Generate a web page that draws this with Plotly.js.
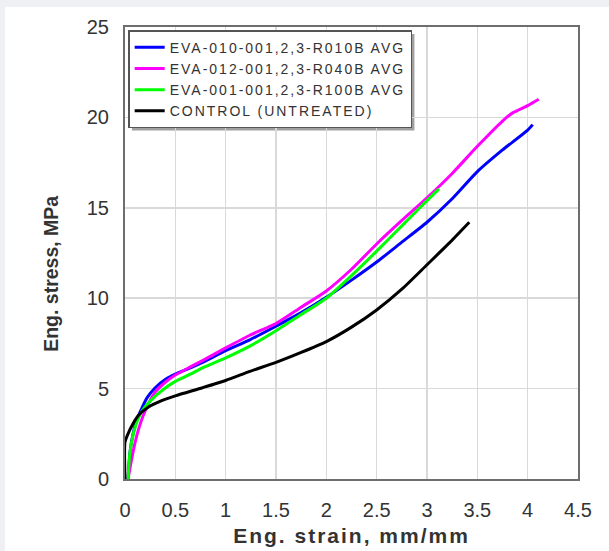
<!DOCTYPE html>
<html>
<head>
<meta charset="utf-8">
<script src="https://cdn.plot.ly/plotly-3.0.1.min.js"></script>
<style>
  html, body { margin: 0; padding: 0; background: #eef0f3; width: 609px; height: 551px; overflow: hidden; }
  #chart { position: absolute; left: 5px; top: 7px; width: 604px; height: 544px; background: #ffffff; }
  .legendtext { letter-spacing: 2px; }
  .xtitle { letter-spacing: 2px; }
</style>
</head>
<body>
<div id="chart"></div>
<script>
// Series names
const seriesNames = [
  "EVA-010-001,2,3-R010B AVG",
  "EVA-012-001,2,3-R040B AVG",
  "EVA-001-001,2,3-R100B AVG",
  "CONTROL (UNTREATED)"
];

// EVA-010 (blue)
const blueStrain = [0.03, 0.05, 0.08, 0.12, 0.17, 0.22, 0.30, 0.40, 0.50, 0.65, 0.77, 1.00, 1.24, 1.50, 1.75, 2.00, 2.25, 2.50, 2.75, 3.00, 3.25, 3.50, 3.75, 4.00, 4.05];
const blueStress = [0.0, 1.5, 2.5, 3.3, 3.95, 4.5, 5.05, 5.5, 5.8, 6.15, 6.45, 7.1, 7.7, 8.45, 9.2, 10.05, 11.0, 12.0, 13.1, 14.2, 15.5, 17.0, 18.2, 19.3, 19.6];

// EVA-012 (magenta)
const magStrain = [0.03, 0.08, 0.13, 0.20, 0.30, 0.40, 0.50, 0.65, 0.77, 1.00, 1.24, 1.50, 1.75, 2.00, 2.25, 2.50, 2.75, 3.00, 3.25, 3.50, 3.75, 3.85, 4.00, 4.11];
const magStress = [0.0, 1.5, 2.66, 3.76, 4.8, 5.35, 5.75, 6.2, 6.55, 7.25, 7.95, 8.6, 9.5, 10.4, 11.6, 13.0, 14.3, 15.55, 16.9, 18.4, 19.8, 20.25, 20.65, 21.0];

// EVA-001 (green)
const greenStrain = [0.03, 0.05, 0.10, 0.17, 0.27, 0.38, 0.50, 0.65, 0.77, 1.00, 1.24, 1.50, 1.75, 2.00, 2.25, 2.50, 2.75, 3.00, 3.12];
const greenStress = [0.0, 1.5, 2.85, 3.76, 4.42, 4.95, 5.4, 5.8, 6.15, 6.7, 7.35, 8.2, 9.1, 10.0, 11.25, 12.6, 14.0, 15.4, 16.05];

// CONTROL (black)
const ctrlStrain = [0.0, 0.0, 0.03, 0.066, 0.13, 0.23, 0.37, 0.50, 0.77, 1.00, 1.24, 1.50, 1.75, 2.00, 2.25, 2.50, 2.75, 3.00, 3.23, 3.42];
const ctrlStress = [0.0, 2.05, 2.5, 2.92, 3.5, 3.97, 4.35, 4.6, 5.05, 5.45, 5.95, 6.45, 7.0, 7.6, 8.4, 9.35, 10.5, 11.85, 13.1, 14.2];

// Axis ticks
const xTicks = [0, 0.5, 1, 1.5, 2, 2.5, 3, 3.5, 4, 4.5];
const xTickText = ["0", "0.5", "1", "1.5", "2", "2.5", "3", "3.5", "4", "4.5"];
const yTicks = [0, 5, 10, 15, 20, 25];

const colors = ["#0000ff", "#ff00ff", "#00ff00", "#000000"];
const xs = [blueStrain, magStrain, greenStrain, ctrlStrain];
const ys = [blueStress, magStress, greenStress, ctrlStress];

const traces = xs.map((x, i) => ({
  x: x, y: ys[i], type: "scatter", mode: "lines", name: seriesNames[i],
  line: { color: colors[i], width: 3, shape: "spline", smoothing: 0.6 }
}));

const font = "Liberation Sans, Arial, sans-serif";

const layout = {
  width: 604, height: 544,
  margin: { l: 120, r: 31, t: 20, b: 72 },
  paper_bgcolor: "#ffffff", plot_bgcolor: "#ffffff",
  showlegend: true,
  font: { family: font, color: "#333333" },
  xaxis: {
    range: [0, 4.5], tickvals: xTicks, ticktext: xTickText,
    showgrid: true, gridcolor: "#d9d9d9", gridwidth: 1.5,
    zeroline: false, showline: true, linecolor: "#6e6e6e", linewidth: 2, mirror: true,
    ticks: "", ticklabelstandoff: 12,
    tickfont: { family: font, size: 20, color: "#333333" },
    title: { text: "<b>Eng. strain, mm/mm</b>", font: { family: font, size: 21, color: "#333333" }, standoff: 8 },
    automargin: false
  },
  yaxis: {
    range: [0, 25], tickvals: yTicks,
    showgrid: true, gridcolor: "#d9d9d9", gridwidth: 1.5,
    zeroline: false, showline: true, linecolor: "#6e6e6e", linewidth: 2, mirror: true,
    ticks: "", ticklabelstandoff: 10,
    tickfont: { family: font, size: 20, color: "#333333" },
    automargin: false
  },
  annotations: [{
    text: "<b>Eng. stress, MPa</b>", textangle: -90,
    xref: "paper", yref: "paper", x: -0.162, y: 0.453,
    xanchor: "center", yanchor: "middle", showarrow: false,
    font: { family: font, size: 19.5, color: "#333333" }
  }],
  legend: {
    x: 0.007, y: 0.993, xanchor: "left", yanchor: "top",
    bgcolor: "#ffffff", bordercolor: "#555555", borderwidth: 1.5,
    font: { family: font, size: 14, color: "#333333" },
    tracegroupgap: 0, itemwidth: 30
  }
};

Plotly.newPlot("chart", traces, layout, { displayModeBar: false, staticPlot: true }).then(gd => {
  // drop shadow behind the legend box, sized from the drawn legend
  const bg = gd.querySelector(".legend .bg");
  if (!bg) return;
  const r = bg.getBoundingClientRect();
  const c = gd.getBoundingClientRect();
  const fs = gd._fullLayout._size;
  const toX = px => (px - c.left - fs.l) / fs.w;
  const toY = py => 1 - (py - c.top - fs.t) / fs.h;
  Plotly.relayout(gd, {
    shapes: [{
      type: "rect", xref: "paper", yref: "paper", layer: "below",
      x0: toX(r.left + 3), x1: toX(r.right + 3), y0: toY(r.bottom + 3), y1: toY(r.top + 3),
      fillcolor: "#a0a0a0", line: { width: 0 }
    }]
  });
});
</script>
</body>
</html>
